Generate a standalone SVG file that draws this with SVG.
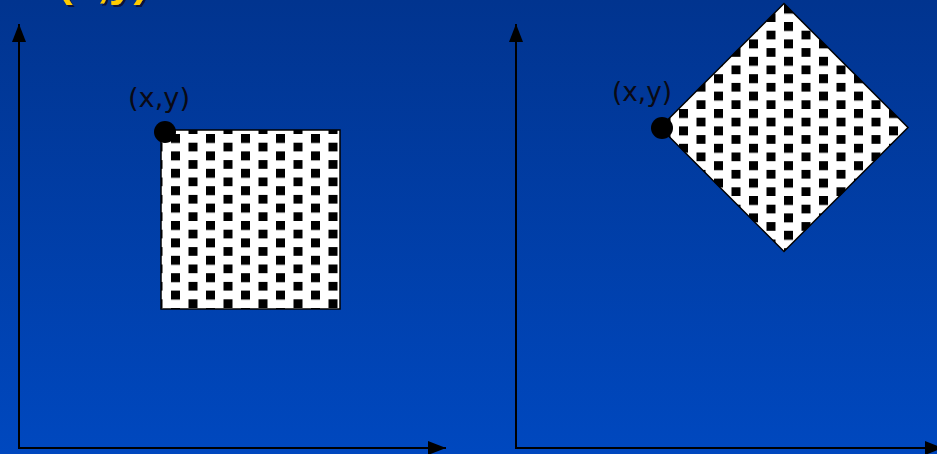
<svg xmlns="http://www.w3.org/2000/svg" width="937" height="454" viewBox="0 0 937 454">
  <defs>
    <linearGradient id="bg" x1="0" y1="0" x2="0" y2="1">
      <stop offset="0" stop-color="#01348f"/>
      <stop offset="1" stop-color="#0048bf"/>
    </linearGradient>
    <pattern id="dotsL" patternUnits="userSpaceOnUse" x="171" y="134" width="35" height="17.4">
      <rect width="35" height="17.4" fill="#fff"/>
      <rect x="0" y="0" width="9" height="9" fill="#000"/>
      <rect x="17.5" y="8.7" width="9" height="9" fill="#000"/>
    </pattern>
    <pattern id="dotsR" patternUnits="userSpaceOnUse" x="784" y="22" width="35" height="17.4">
      <rect width="35" height="17.4" fill="#fff"/>
      <rect x="0" y="0" width="9" height="9" fill="#000"/>
      <rect x="17.5" y="8.7" width="9" height="9" fill="#000"/>
    </pattern>
    <marker id="arrow" markerUnits="userSpaceOnUse" markerWidth="18" markerHeight="14" refX="18" refY="7" orient="auto">
      <path d="M0,0 L18,7 L0,14 z" fill="#000"/>
    </marker>
    <filter id="shadow" x="-10%" y="-10%" width="130%" height="130%">
      <feDropShadow dx="2" dy="2" stdDeviation="0.5" flood-color="#101030" flood-opacity="0.9"/>
    </filter>
  </defs>
  <style>
    .axis { stroke: #000; stroke-width: 2; fill: none; marker-end: url(#arrow); }
    .label { font-family: "DejaVu Sans", "Liberation Sans", sans-serif; font-size: 26px; fill: #0a0a14; }
    .title { font-family: "Liberation Sans", Arial, sans-serif; font-weight: bold; font-size: 40px; fill: #ffcc00; }
    .pt { fill: #000; }
  </style>

  <rect x="0" y="0" width="937" height="454" fill="url(#bg)"/>

  <g id="title">
    <text class="title" x="58" y="-3" textLength="90" lengthAdjust="spacingAndGlyphs" filter="url(#shadow)">(x,y)</text>
  </g>

  <g id="connectors">
    <line class="axis" x1="19" y1="448" x2="19" y2="24"/>
    <line class="axis" x1="18" y1="448" x2="446" y2="448"/>
    <line class="axis" x1="516" y1="448" x2="516" y2="24"/>
    <line class="axis" x1="515" y1="448" x2="943" y2="448"/>
  </g>

  <g id="square">
    <rect x="161" y="130" width="179" height="179" fill="url(#dotsL)" stroke="#000" stroke-width="1.5"/>
  </g>

  <g id="diamond">
    <polygon points="784,3.5 908,127.5 784,251.5 660,127.5" fill="url(#dotsR)" stroke="#000" stroke-width="1.5"/>
  </g>

  <g id="pointLeft">
    <circle class="pt" cx="165" cy="132" r="11"/>
    <text class="label" x="128" y="107" textLength="62" lengthAdjust="spacingAndGlyphs">(x,y)</text>
  </g>

  <g id="pointRight">
    <circle class="pt" cx="662" cy="128" r="11"/>
    <text class="label" x="612" y="101" textLength="60" lengthAdjust="spacingAndGlyphs">(x,y)</text>
  </g>
</svg>
